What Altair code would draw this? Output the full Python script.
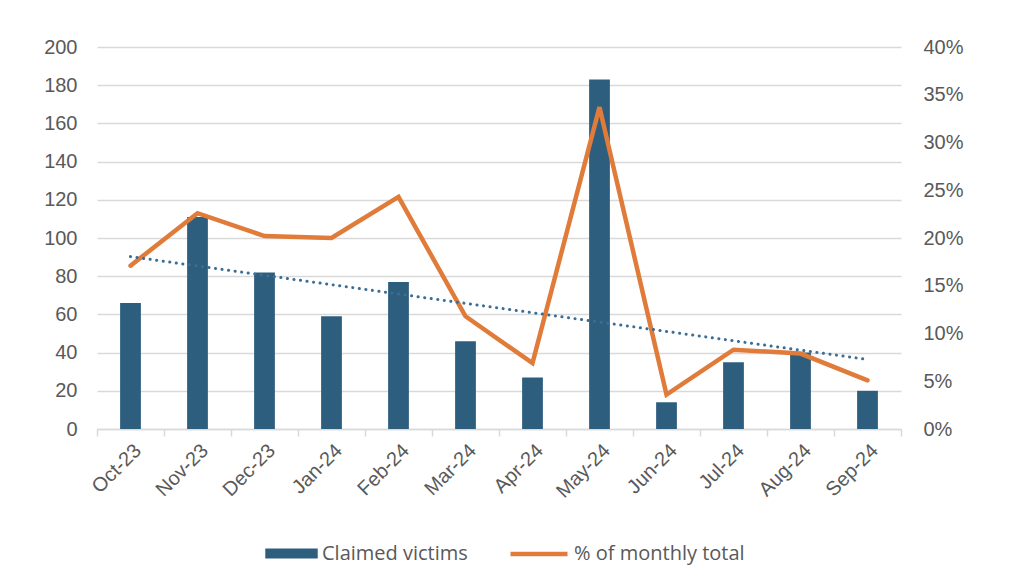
import json
import altair as alt
import pandas as pd

months = ["Oct-23", "Nov-23", "Dec-23", "Jan-24", "Feb-24", "Mar-24",
          "Apr-24", "May-24", "Jun-24", "Jul-24", "Aug-24", "Sep-24"]
victims = [66, 111, 82, 59, 77, 46, 27, 183, 14, 35, 40, 20]
pct_total = [0.171, 0.226, 0.202, 0.200, 0.243, 0.118, 0.069, 0.337, 0.036, 0.083, 0.079, 0.051]

BAR = "#2E5E7E"
TREND = "#3A6E96"
ORANGE = "#E07B39"
GRID = "#D9D9D9"
TXT = "#595959"
FONT = "Liberation Sans"

df = pd.DataFrame({
    "month": months,
    "idx": list(range(len(months))),
    "victims": victims,
    "pct": pct_total,
})

base = alt.Chart(df)
xenc = alt.X("month:N", sort=months, title=None,
             scale=alt.Scale(paddingInner=0, paddingOuter=0),
             axis=alt.Axis(labelAngle=-45, labelFontSize=20, labelColor=TXT, labelFont=FONT,
                           tickBand="extent", tickSize=7, tickColor=GRID, tickWidth=1.5,
                           domainColor=GRID, domainWidth=1.5, labelPadding=4))

bars = base.mark_bar(width=alt.RelativeBandSize(0.31)).encode(
    x=xenc,
    y=alt.Y("victims:Q", title=None,
            scale=alt.Scale(domain=[0, 200]),
            axis=alt.Axis(values=list(range(0, 201, 20)), labelFontSize=20, labelColor=TXT,
                          labelFont=FONT, grid=True, gridColor=GRID, gridWidth=1.5,
                          domain=False, ticks=False, labelPadding=20)),
    fill=alt.Fill("series:N",
                  scale=alt.Scale(domain=["Claimed victims"], range=[BAR]),
                  legend=alt.Legend(
                      title=None, orient="none", legendX=168, legendY=480,
                      labelFontSize=20, labelColor=TXT, labelFont="Open Sans",
                      symbolSize=2750, labelOffset=4, symbolStrokeWidth=0,
                      symbolType="M-1,-0.19L1,-0.19L1,0.19L-1,0.19Z",
                      labelLimit=400)),
).transform_calculate(series="'Claimed victims'")

trend = base.transform_regression("idx", "victims", extent=[0, 11]).transform_calculate(
    month=f"{json.dumps(months)}[datum.idx]"
).mark_line(color=TREND, strokeWidth=3, strokeDash=[0.1, 6.5], strokeCap="round").encode(
    x=alt.X("month:N", sort=months),
    y=alt.Y("victims:Q", scale=alt.Scale(domain=[0, 200]), axis=None),
)

line = base.mark_line(strokeWidth=4.5, strokeCap="round", strokeJoin="miter").encode(
    x=alt.X("month:N", sort=months),
    y=alt.Y("pct:Q", title=None, scale=alt.Scale(domain=[0, 0.4]),
            axis=alt.Axis(orient="right", values=[i * 0.05 for i in range(9)], format=".0%",
                          labelFontSize=20, labelColor=TXT, labelFont=FONT, grid=False,
                          domain=False, ticks=False, labelPadding=22)),
    stroke=alt.Stroke("series:N",
                      scale=alt.Scale(domain=["% of monthly total"], range=[ORANGE]),
                      legend=alt.Legend(
                          title=None, orient="none", legendX=411, legendY=476,
                          labelFontSize=20, labelColor=TXT, labelFont="Open Sans",
                          symbolType="stroke", symbolSize=3249, symbolStrokeWidth=4.5,
                          labelOffset=4, labelLimit=400)),
).transform_calculate(series="'% of monthly total'")

chart = alt.layer(bars, line, trend).resolve_scale(y="independent").properties(
    width=804, height=382,
    padding={"left": 35, "top": 29, "right": 5, "bottom": 5},
).configure_view(stroke=None)

chart.save("out.html", embed_options={"renderer": "svg", "actions": False})
